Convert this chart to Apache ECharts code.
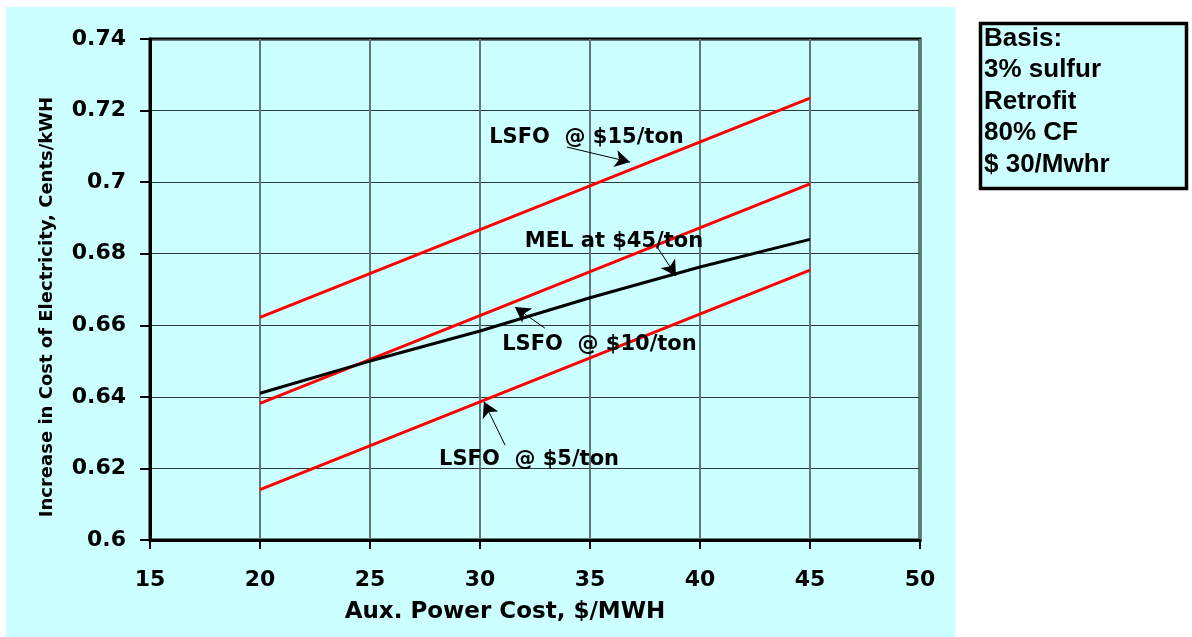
<!DOCTYPE html>
<html>
<head>
<meta charset="utf-8">
<script src="https://cdn.jsdelivr.net/npm/echarts@6/dist/echarts.min.js"></script>
<style>
html,body{margin:0;padding:0;background:#ffffff;}
#chart{width:1192px;height:637px;}
</style>
</head>
<body>
<div id="chart"></div>
<script>
// ---- data ----
const melX = [20, 25, 30, 35, 40, 45];
const melValues = [0.641, 0.650, 0.6584, 0.6677, 0.6763, 0.684];
const lsfoX = [20, 45];
const lsfo15Values = [0.6622, 0.7235];
const lsfo10Values = [0.6382, 0.6995];
const lsfo5Values = [0.6141, 0.6754];

const xTitle = 'Aux. Power Cost, $/MWH';
const yTitle = 'Increase in Cost of Electricity, Cents/kWH';
const basisLines = ['Basis:', '3% sulfur', 'Retrofit', '80% CF', '$ 30/Mwhr'];

const annotationTexts = ['LSFO  @ $15/ton', 'MEL at $45/ton', 'LSFO  @ $10/ton', 'LSFO  @ $5/ton'];
const annotationAt = [[34.84, 0.7126], [36.09, 0.6833], [35.43, 0.6545], [32.23, 0.6224]];
const arrowFrom = [[33.95, 0.7098], [38.05, 0.6819], [32.95, 0.6592], [31.14, 0.6265]];
const arrowTo = [[36.82, 0.7056], [38.91, 0.6738], [31.59, 0.6651], [30.18, 0.6386]];

// ---- build ----
const pairs = (xs, ys) => xs.map((x, i) => [x, ys[i]]);
const FONT = '"DejaVu Sans", sans-serif';
const CYAN = '#ccffff';

const chart = echarts.init(document.getElementById('chart'));

const lineSeries = (name, xs, ys, color, extra) => Object.assign({
  name: name,
  type: 'line',
  data: pairs(xs, ys),
  symbol: 'none',
  lineStyle: { color: color, width: 3 },
  itemStyle: { color: color },
  z: 3,
  silent: true
}, extra || {});

chart.setOption({
  animation: false,
  backgroundColor: '#ffffff',
  grid: {
    left: 150, top: 39, width: 770, height: 501,
    show: true, backgroundColor: CYAN, borderColor: '#000', borderWidth: 3
  },
  xAxis: {
    type: 'value', min: 15, max: 50, interval: 5,
    axisLine: { show: true, onZero: false, lineStyle: { color: '#000', width: 3 } },
    axisTick: { show: true, inside: false, length: 9, lineStyle: { color: '#000', width: 2 } },
    axisLabel: { margin: 29, color: '#000', fontFamily: FONT, fontWeight: 'bold', fontSize: 22 },
    splitLine: { show: true, lineStyle: { color: '#5f7878', width: 2 } }
  },
  yAxis: {
    type: 'value', min: 0.6, max: 0.74, interval: 0.02,
    axisLine: { show: true, onZero: false, lineStyle: { color: '#000', width: 3 } },
    axisTick: { show: true, inside: false, length: 10, lineStyle: { color: '#000', width: 2 } },
    axisLabel: { margin: 24, color: '#000', fontFamily: FONT, fontWeight: 'bold', fontSize: 22 },
    splitLine: { show: true, lineStyle: { color: '#2a3a3a', width: 1 } }
  },
  series: [
    lineSeries('LSFO @ $15/ton', lsfoX, lsfo15Values, '#ff0000'),
    lineSeries('LSFO @ $10/ton', lsfoX, lsfo10Values, '#ff0000'),
    lineSeries('LSFO @ $5/ton', lsfoX, lsfo5Values, '#ff0000'),
    lineSeries('MEL at $45/ton', melX, melValues, '#000000', {
      markLine: {
        silent: true,
        symbol: ['none', 'arrow'],
        symbolSize: [13, 15],
        lineStyle: { color: '#000', width: 1, type: 'solid' },
        label: { show: false },
        data: arrowFrom.map((f, i) => [{ coord: f }, { coord: arrowTo[i] }])
      },
      markPoint: {
        silent: true,
        symbol: 'circle',
        symbolSize: 0,
        label: {
          show: true, position: 'inside', color: '#000',
          fontFamily: FONT, fontWeight: 'bold', fontSize: 21
        },
        data: annotationAt.map((c, i) => ({ coord: c, value: annotationTexts[i], label: { formatter: annotationTexts[i] } }))
      }
    })
  ],
  graphic: [
    { type: 'rect', z: -100, silent: true, shape: { x: 6, y: 7, width: 949, height: 630 }, style: { fill: CYAN } },
    { type: 'text', silent: true, x: 505, y: 612,
      style: { text: xTitle, fill: '#000', font: 'bold 23px ' + FONT, textAlign: 'center', textVerticalAlign: 'middle' } },
    { type: 'text', silent: true, x: 47, y: 307, rotation: Math.PI / 2,
      style: { text: yTitle, fill: '#000', font: 'bold 18px ' + FONT, textAlign: 'center', textVerticalAlign: 'middle' } },
    { type: 'rect', silent: true, shape: { x: 980.5, y: 23.5, width: 206, height: 165 },
      style: { fill: CYAN, stroke: '#000', lineWidth: 3.5 } }
  ].concat(basisLines.map((t, i) => ({
    type: 'text', silent: true, x: 984, y: 38.5 + i * 31.5,
    style: { text: t, fill: '#000', font: 'bold 26px "Liberation Sans", Arial, sans-serif', textAlign: 'left', textVerticalAlign: 'middle' }
  })))
});
</script>
</body>
</html>
